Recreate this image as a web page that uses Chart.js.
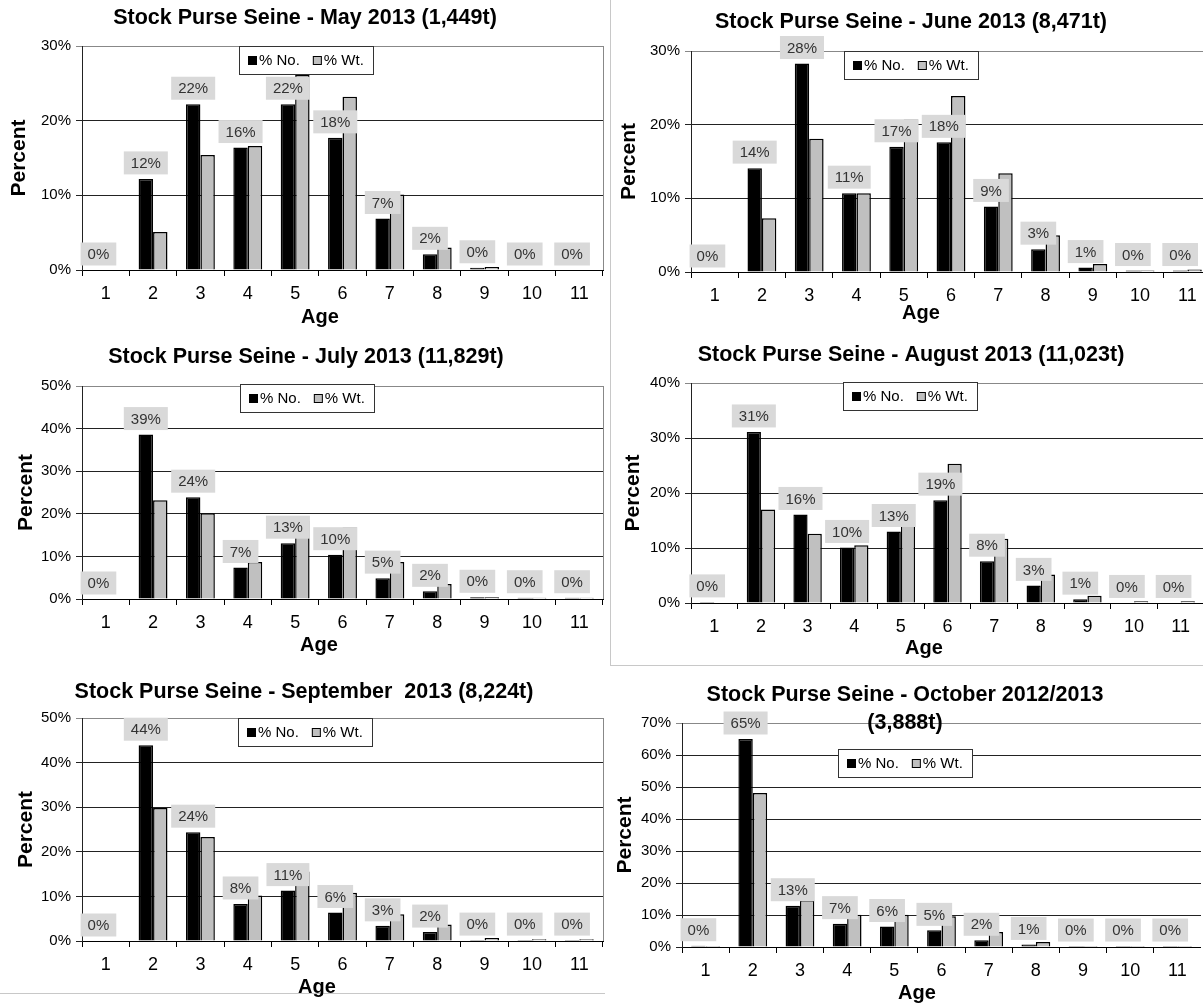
<!DOCTYPE html>
<html>
<head>
<meta charset="utf-8">
<script src="https://cdn.jsdelivr.net/npm/chart.js@4.4.1/dist/chart.umd.min.js"></script>
<style>
  body { margin: 0; background: #fff; width: 1203px; height: 1006px; overflow: hidden; position: relative; }
  .box { position: absolute; }
  .frame { position: absolute; background: #c8c8c8; }
</style>
</head>
<body>
<div class="frame" style="left:610px;top:0;width:1px;height:665px"></div>
<div class="frame" style="left:610px;top:665px;width:593px;height:1px"></div>
<div class="frame" style="left:0;top:993px;width:605px;height:1px"></div>

<div class="box" style="left:0;top:0"><canvas id="c1" width="610" height="330"></canvas></div>
<div class="box" style="left:610px;top:0"><canvas id="c2" width="601" height="326"></canvas></div>
<div class="box" style="left:0;top:330px"><canvas id="c3" width="610" height="328"></canvas></div>
<div class="box" style="left:610px;top:330px"><canvas id="c4" width="594" height="331"></canvas></div>
<div class="box" style="left:0;top:660px"><canvas id="c5" width="610" height="340"></canvas></div>
<div class="box" style="left:600px;top:665px"><canvas id="c6" width="601" height="341"></canvas></div>

<script>
const ages = ["1", "2", "3", "4", "5", "6", "7", "8", "9", "10", "11"];

// % by number / % by weight
const mayNo  = [0, 12.2, 22.2, 16.4, 22.2, 17.7, 6.9, 2.1, 0.3, 0, 0];
const mayWt  = [0, 5.1, 15.4, 16.6, 26.1, 23.2, 10.1, 3.0, 0.4, 0, 0];
const juneNo = [0, 14.1, 28.3, 10.7, 17.0, 17.6, 8.9, 3.1, 0.6, 0.2, 0.2];
const juneWt = [0, 7.3, 18.1, 10.7, 20.7, 23.9, 13.4, 5.0, 1.1, 0.2, 0.35];
const julyNo = [0, 38.6, 23.9, 7.4, 13.1, 10.4, 4.9, 1.8, 0.4, 0.3, 0.3];
const julyWt = [0, 23.2, 20.1, 8.7, 18.3, 16.8, 8.7, 3.5, 0.4, 0.3, 0.3];
const augNo  = [0.2, 31.1, 16.1, 10.1, 13.0, 18.7, 7.6, 3.2, 0.7, 0.1, 0.1];
const augWt  = [0.1, 17.0, 12.6, 10.5, 16.1, 25.3, 11.7, 5.2, 1.3, 0.3, 0.3];
const sepNo  = [0, 43.9, 24.4, 8.3, 11.3, 6.4, 3.4, 2.0, 0.2, 0.2, 0.2];
const sepWt  = [0, 29.8, 23.3, 10.2, 15.6, 10.8, 6.0, 3.7, 0.7, 0.4, 0.4];
const octNo  = [0.4, 65.0, 12.9, 7.3, 6.4, 5.2, 2.1, 0.8, 0.3, 0.3, 0.3];
const octWt  = [0.3, 48.1, 14.6, 10.1, 10.1, 9.6, 4.7, 1.6, 0.3, 0.3, 0.3];

const FONT = '"Liberation Sans", Arial, sans-serif';
Chart.defaults.font.family = FONT;

// titles, "Age", legend box and the grey value labels
const deco = {
  id: "deco",
  afterDatasetsDraw(chart) {
    const ctx = chart.ctx;
    const meta = chart.getDatasetMeta(0);
    const vals = chart.data.datasets[0].data;
    ctx.save();
    ctx.font = "15px " + FONT;
    ctx.textAlign = "center";
    ctx.textBaseline = "middle";
    meta.data.forEach((bar, i) => {
      const txt = Math.round(vals[i]) + "%";
      const w = ctx.measureText(txt).width + 14;
      const cy = bar.y - 16;
      ctx.fillStyle = "#d9d9d9";
      ctx.fillRect(bar.x - w / 2, cy - 11.5, w, 23);
      ctx.fillStyle = "#333";
      ctx.fillText(txt, bar.x, cy + 1);
    });
    ctx.restore();
  },
  afterDraw(chart, args, o) {
    const ctx = chart.ctx;
    const area = chart.chartArea;
    ctx.save();

    if (o.rightBorder) {
      ctx.strokeStyle = "#888";
      ctx.lineWidth = 1;
      ctx.beginPath();
      ctx.moveTo(Math.round(area.right) + 0.5, area.top);
      ctx.lineTo(Math.round(area.right) + 0.5, area.bottom);
      ctx.stroke();
    }

    ctx.fillStyle = "#000";
    ctx.textAlign = "center";
    ctx.textBaseline = "middle";
    ctx.font = "bold 21.5px " + FONT;
    o.title.forEach((t, i) => ctx.fillText(t, o.titleX, o.titleY[i]));
    ctx.font = "bold 20px " + FONT;
    ctx.fillText("Age", o.ageX, o.ageY);

    // legend
    ctx.font = "15px " + FONT;
    const w1 = ctx.measureText("% No.").width;
    const w2 = ctx.measureText("% Wt.").width;
    const bw = 134, bh = 28;
    const bx = Math.round(o.legendX - bw / 2), by = o.legendTop;
    ctx.fillStyle = "#fff";
    ctx.fillRect(bx, by, bw, bh);
    ctx.strokeStyle = "#333";
    ctx.strokeRect(bx + 0.5, by + 0.5, bw, bh);
    const total = 9 + 2 + w1 + 13 + 9 + 2 + w2;
    let x = Math.round(o.legendX - total / 2);
    const cy = by + bh / 2 + 1;
    ctx.fillStyle = "#000";
    ctx.fillRect(x, cy - 5, 9, 9);
    x += 11;
    ctx.textAlign = "left";
    ctx.fillText("% No.", x, cy);
    x += w1 + 13;
    ctx.fillStyle = "#c0c0c0";
    ctx.fillRect(x, cy - 5, 9, 9);
    ctx.strokeStyle = "#000";
    ctx.strokeRect(x + 0.5, cy - 4.5, 8, 8);
    x += 11;
    ctx.fillStyle = "#000";
    ctx.fillText("% Wt.", x, cy);

    ctx.restore();
  }
};

function makeChart(id, no, wt, s) {
  new Chart(document.getElementById(id), {
    type: "bar",
    data: {
      labels: ages,
      datasets: [
        { label: "% No.", data: no, backgroundColor: "#000", borderColor: "#000", borderWidth: 1.5,
          categoryPercentage: 0.61, barPercentage: 1 },
        { label: "% Wt.", data: wt, backgroundColor: "#c0c0c0", borderColor: "#000", borderWidth: 1.5,
          categoryPercentage: 0.61, barPercentage: 1 }
      ]
    },
    options: {
      responsive: false,
      animation: false,
      layout: { padding: { top: s.top, right: s.right, left: 0, bottom: 0 } },
      plugins: {
        legend: { display: false },
        tooltip: { enabled: false },
        deco: s
      },
      scales: {
        x: {
          grid: { offset: true, drawOnChartArea: false, tickLength: 6, color: "#000" },
          border: { color: "#000" },
          ticks: { font: { size: 18 }, color: "#000", padding: 7 },
          afterFit: sc => { sc.height = s.axisH; }
        },
        y: {
          min: 0,
          max: s.max,
          ticks: { stepSize: 10, callback: v => v + "%", font: { size: 15 }, color: "#000", padding: 5 },
          grid: { tickLength: 6, color: c => (c.tick && c.tick.value === s.max ? "#888" : "#222") },
          border: { color: "#222" },
          title: { display: true, text: "Percent", font: { size: 21, weight: "bold" }, color: "#000",
                   padding: { top: s.pTitle, bottom: 0 } },
          afterFit: sc => { sc.width = s.left; }
        }
      }
    },
    plugins: [deco]
  });
}

makeChart("c1", mayNo, mayWt, {
  top: 46, right: 7, axisH: 60, left: 82, max: 30, pTitle: 7,
  title: ["Stock Purse Seine - May 2013 (1,449t)"], titleX: 305, titleY: [18],
  ageX: 320, ageY: 317, legendX: 306, legendTop: 46, rightBorder: true
});
makeChart("c2", juneNo, juneWt, {
  top: 51, right: 0, axisH: 54, left: 81, max: 30, pTitle: 7,
  title: ["Stock Purse Seine - June 2013 (8,471t)"], titleX: 301, titleY: [22],
  ageX: 311, ageY: 313, legendX: 301, legendTop: 51, rightBorder: false
});
makeChart("c3", julyNo, julyWt, {
  top: 56, right: 7, axisH: 59, left: 82, max: 50, pTitle: 14,
  title: ["Stock Purse Seine - July 2013 (11,829t)"], titleX: 306, titleY: [27],
  ageX: 319, ageY: 315, legendX: 307, legendTop: 54, rightBorder: true
});
makeChart("c4", augNo, augWt, {
  top: 53, right: 0, axisH: 58, left: 81, max: 40, pTitle: 11,
  title: ["Stock Purse Seine - August 2013 (11,023t)"], titleX: 301, titleY: [25],
  ageX: 314, ageY: 318, legendX: 300, legendTop: 52, rightBorder: false
});
makeChart("c5", sepNo, sepWt, {
  top: 58, right: 7, axisH: 59, left: 82, max: 50, pTitle: 14,
  title: ["Stock Purse Seine - September  2013 (8,224t)"], titleX: 304, titleY: [32],
  ageX: 317, ageY: 327, legendX: 305, legendTop: 58, rightBorder: true
});
makeChart("c6", octNo, octWt, {
  top: 58, right: 0, axisH: 59, left: 82, max: 70, pTitle: 13,
  title: ["Stock Purse Seine - October 2012/2013", "(3,888t)"], titleX: 305, titleY: [30, 58],
  ageX: 317, ageY: 328, legendX: 305, legendTop: 84, rightBorder: false
});
</script>
</body>
</html>
